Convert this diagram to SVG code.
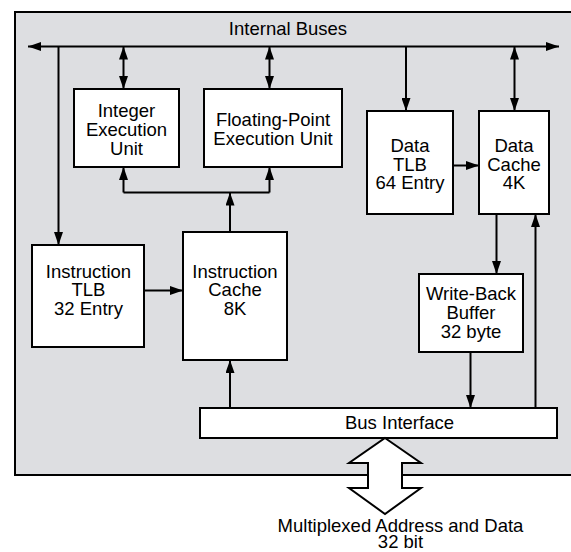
<svg xmlns="http://www.w3.org/2000/svg" width="571" height="552" viewBox="0 0 571 552">
<defs>
<marker id="ah" markerUnits="userSpaceOnUse" markerWidth="13" markerHeight="9" refX="13" refY="4.5" orient="auto-start-reverse" viewBox="0 0 13 9">
<path d="M0,0 L13,4.5 L0,9 z" fill="#000"/>
</marker>
<style>
.box{fill:#fff;stroke:#000;stroke-width:2}
.ln{fill:none;stroke:#000;stroke-width:2}
.a1{marker-end:url(#ah)}
.a2{marker-start:url(#ah);marker-end:url(#ah)}
text{font-family:"Liberation Sans",Arial,sans-serif;font-size:18.5px;text-anchor:middle;fill:#000}
</style>
</defs>
<rect id="chip" x="15" y="12" width="600" height="463" fill="#dddee1" stroke="#000" stroke-width="2"/>
<text x="288" y="35">Internal Buses</text>

<g id="connectors">
<line class="ln a2" x1="28" y1="46.5" x2="559" y2="46.5"/>
<line class="ln a1" x1="58.5" y1="46.5" x2="58.5" y2="245"/>
<line class="ln a2" x1="123.5" y1="46.5" x2="123.5" y2="89"/>
<line class="ln a2" x1="269.5" y1="46.5" x2="269.5" y2="89"/>
<line class="ln a1" x1="406" y1="46.5" x2="406" y2="111"/>
<line class="ln a2" x1="514.5" y1="46.5" x2="514.5" y2="111"/>
<polyline class="ln" points="123.5,192.5 269.5,192.5"/>
<line class="ln a1" x1="123.5" y1="192.5" x2="123.5" y2="167"/>
<line class="ln a1" x1="269.5" y1="192.5" x2="269.5" y2="167"/>
<line class="ln a1" x1="230" y1="232" x2="230" y2="192.5"/>
<line class="ln a1" x1="144" y1="290.5" x2="183" y2="290.5"/>
<line class="ln a1" x1="453" y1="165.5" x2="479" y2="165.5"/>
<line class="ln a1" x1="496.5" y1="214" x2="496.5" y2="274"/>
<line class="ln a1" x1="470.5" y1="352" x2="470.5" y2="408"/>
<line class="ln a1" x1="535.5" y1="408" x2="535.5" y2="214"/>
<line class="ln a1" x1="230" y1="408" x2="230" y2="360"/>
</g>

<g id="int-exec">
<rect class="box" x="74" y="89" width="105" height="78"/>
<text x="126.5" y="117">Integer</text>
<text x="126.5" y="136">Execution</text>
<text x="126.5" y="154.5">Unit</text>
</g>
<g id="fp-exec">
<rect class="box" x="204" y="89" width="138" height="78"/>
<text x="273" y="126">Floating-Point</text>
<text x="273" y="144.5">Execution Unit</text>
</g>
<g id="data-tlb">
<rect class="box" x="367" y="111" width="86" height="103"/>
<text x="410" y="152">Data</text>
<text x="410" y="170.5">TLB</text>
<text x="410" y="189">64 Entry</text>
</g>
<g id="data-cache">
<rect class="box" x="479" y="111" width="70" height="103"/>
<text x="514" y="152">Data</text>
<text x="514" y="170.5">Cache</text>
<text x="514" y="189">4K</text>
</g>
<g id="instr-tlb">
<rect class="box" x="32" y="245" width="112" height="102"/>
<text x="88.5" y="277.5">Instruction</text>
<text x="88.5" y="296">TLB</text>
<text x="88.5" y="315">32 Entry</text>
</g>
<g id="instr-cache">
<rect class="box" x="183" y="232" width="104" height="128"/>
<text x="235" y="277.5">Instruction</text>
<text x="235" y="296">Cache</text>
<text x="235" y="314.5">8K</text>
</g>
<g id="write-back">
<rect class="box" x="419" y="274" width="104" height="78"/>
<text x="471" y="300">Write-Back</text>
<text x="471" y="319">Buffer</text>
<text x="471" y="337.5">32 byte</text>
</g>
<g id="bus-interface">
<rect class="box" x="200" y="408" width="357" height="30"/>
<text x="399.5" y="428.5">Bus Interface</text>
</g>
<g id="external-bus">
<polygon class="box" points="385,438 421,463 402,463 402,488 421,488 385,514 349,488 368,488 368,463 349,463"/>
<text x="400.5" y="531.5">Multiplexed Address and Data</text>
<text x="400.5" y="548">32 bit</text>
</g>
</svg>
